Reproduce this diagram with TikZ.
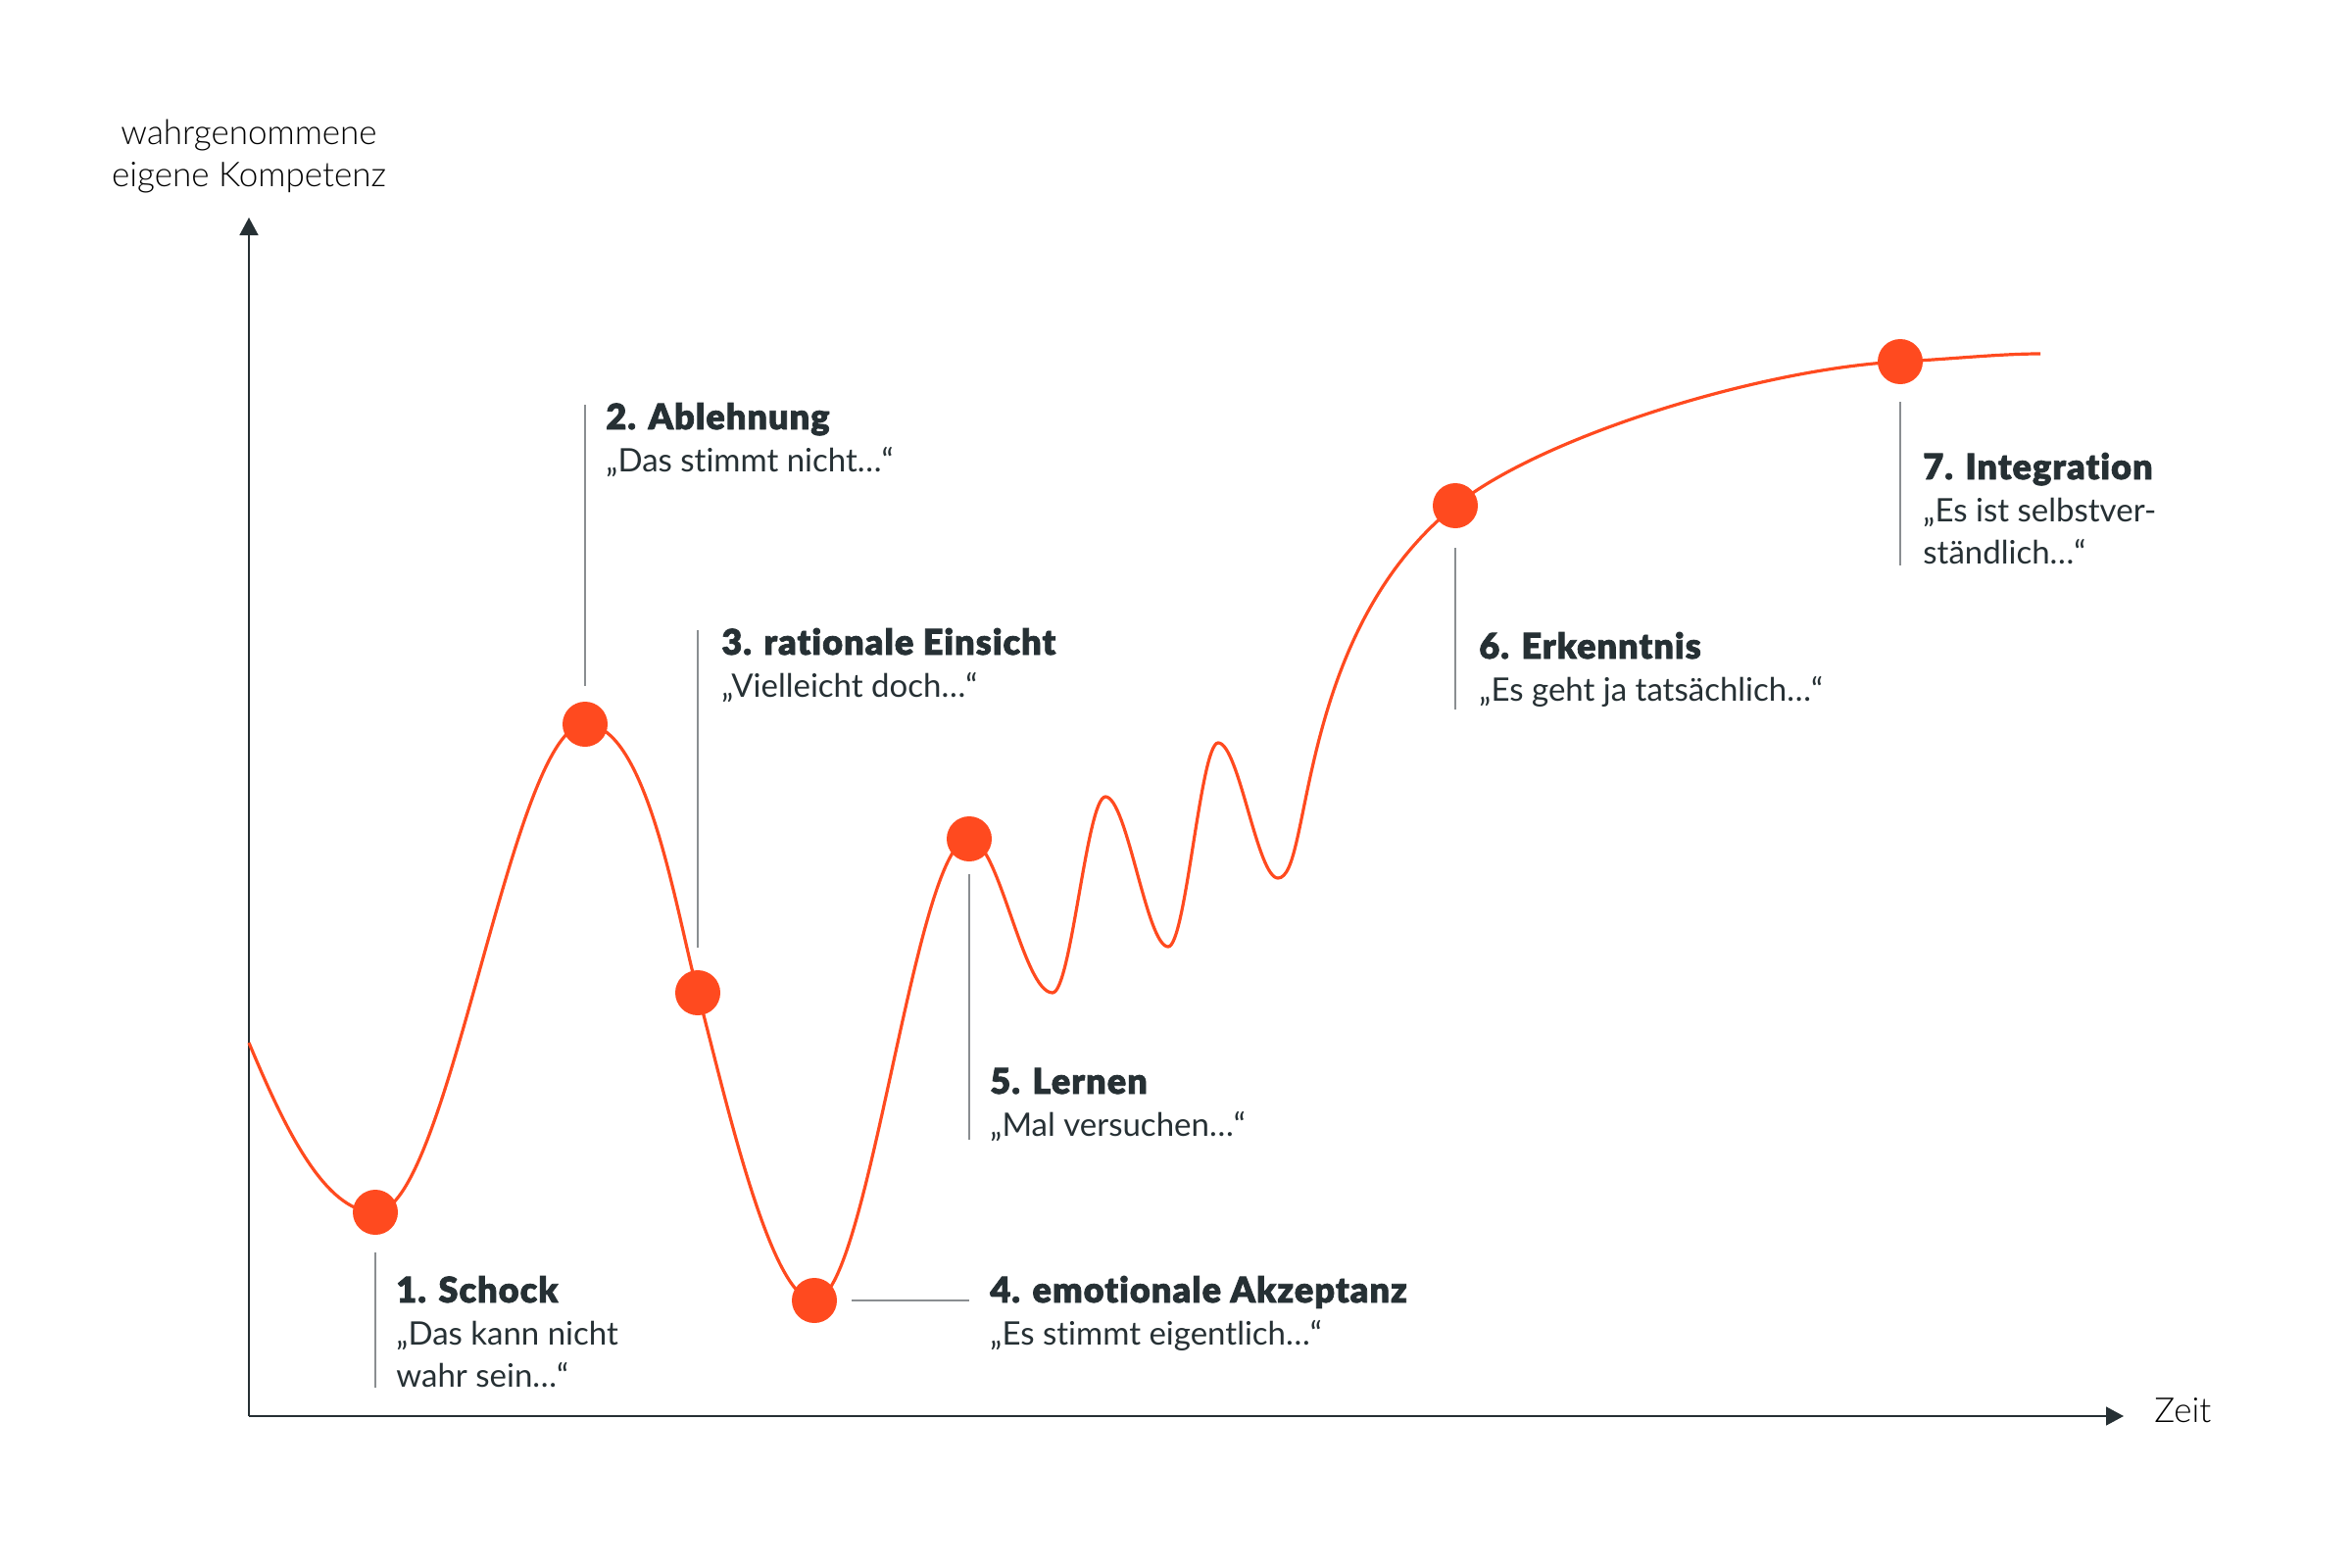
\documentclass[tikz,border=0pt]{standalone}
\usepackage{fontspec}
\setmainfont{Lato}[Ligatures=CommonOff, UprightFont=*, BoldFont=* Black, BoldFeatures={LetterSpace=3, FakeBold=2}]
\newfontfamily\lightfont{Lato}[Ligatures=CommonOff, UprightFont=* Light]
\usetikzlibrary{arrows.meta}
\definecolor{orng}{HTML}{FF4A1F}
\definecolor{ink}{HTML}{263034}
\definecolor{lead}{HTML}{8A8E91}
\begin{document}
\begin{tikzpicture}[x=0.5pt,y=-0.5pt,
  curve/.style={draw=orng, line width=1.6pt},
  dot/.style={circle, fill=orng, minimum size=23pt, inner sep=0pt},
  leader/.style={draw=lead, line width=0.8pt},
  axis/.style={draw=ink, line width=0.8pt, -{Triangle[length=9pt,width=9.5pt]}},
  ttl/.style={anchor=base west, font=\fontsize{18}{20}\selectfont\bfseries, text=ink, inner sep=0pt},
  qt/.style={anchor=base west, font=\fontsize{16.5}{20}\selectfont, text=ink, inner sep=0pt},
  axlbl/.style={font=\fontsize{17.5}{20}\selectfont\lightfont, text=black, inner sep=0pt}]
\useasboundingbox (0,0) rectangle (2400,1600);

% axes
\coordinate (O) at (254,1445);
\coordinate (ytip) at (254,222);
\coordinate (xtip) at (2167,1445);
\draw[axis] (O) -- (ytip);
\draw[axis] (O) -- (xtip);
\node[axlbl, anchor=west] (zeit) at (2198,1439) {Zeit};
\node[axlbl] (ylbl1) at (254,138) {wahrgenommene};
\node[axlbl] (ylbl2) at (254,181) {eigene Kompetenz};

% curve
\draw[curve] (254,1064) .. controls (288,1145) and (330,1237) .. (383,1237)
  .. controls (458,1237) and (522,739) .. (597,739)
  .. controls (660,739) and (690,930) .. (712,1013)
  .. controls (737,1105) and (785,1327) .. (831,1327)
  .. controls (886,1327) and (934,856) .. (989,856)
  .. controls (1019,856) and (1044,1013) .. (1074,1013)
  .. controls (1093,1013) and (1109,813) .. (1128,813)
  .. controls (1150,813) and (1170,966) .. (1192,966)
  .. controls (1210,966) and (1225,758) .. (1243,758)
  .. controls (1264,758) and (1283,896) .. (1304,896)
  .. controls (1339,896) and (1320,648) .. (1485,516)
  .. controls (1575,444) and (1800,376) .. (1939,369)
  .. controls (1990,366.5) and (2040,361) .. (2082,361);

% dots
\node[dot] (d1) at (383,1237) {};
\node[dot] (d2) at (597,739) {};
\node[dot] (d3) at (712,1013) {};
\node[dot] (d4) at (831,1327) {};
\node[dot] (d5) at (989,856) {};
\node[dot] (d6) at (1485,516) {};
\node[dot] (d7) at (1939,369) {};

% leaders
\coordinate (l1a) at (383,1278); \coordinate (l1b) at (383,1416);
\coordinate (l2a) at (597,413);  \coordinate (l2b) at (597,700);
\coordinate (l3a) at (712,643);  \coordinate (l3b) at (712,967);
\coordinate (l4a) at (869,1327); \coordinate (l4b) at (989,1327);
\coordinate (l5a) at (989,892);  \coordinate (l5b) at (989,1163);
\coordinate (l6a) at (1485,559); \coordinate (l6b) at (1485,724);
\coordinate (l7a) at (1939,410); \coordinate (l7b) at (1939,577);
\draw[leader] (l1a) -- (l1b);
\draw[leader] (l2a) -- (l2b);
\draw[leader] (l3a) -- (l3b);
\draw[leader] (l4a) -- (l4b);
\draw[leader] (l5a) -- (l5b);
\draw[leader] (l6a) -- (l6b);
\draw[leader] (l7a) -- (l7b);

% labels
\node[ttl] (t1) at (404,1329) {1. Schock};
\node[qt] (q1a) at (404,1372) {„Das kann nicht};
\node[qt] (q1b) at (404,1415) {wahr sein…“};

\node[ttl] (t2) at (618,438) {2. Ablehnung};
\node[qt] (q2) at (618,481) {„Das stimmt nicht…“};

\node[ttl] (t3) at (736,668) {3. rationale Einsicht};
\node[qt] (q3) at (736,711) {„Vielleicht doch…“};

\node[ttl] (t4) at (1010,1329) {4. emotionale Akzeptanz};
\node[qt] (q4) at (1010,1372) {„Es stimmt eigentlich…“};

\node[ttl] (t5) at (1010,1116) {5. Lernen};
\node[qt] (q5) at (1010,1159) {„Mal versuchen…“};

\node[ttl] (t6) at (1509,672) {6. Erkenntnis};
\node[qt] (q6) at (1509,715) {„Es geht ja tatsächlich…“};

\node[ttl] (t7) at (1962,489) {7. Integration};
\node[qt] (q7a) at (1962,532) {„Es ist selbstver-};
\node[qt] (q7b) at (1962,575) {ständlich…“};
\end{tikzpicture}
\end{document}
